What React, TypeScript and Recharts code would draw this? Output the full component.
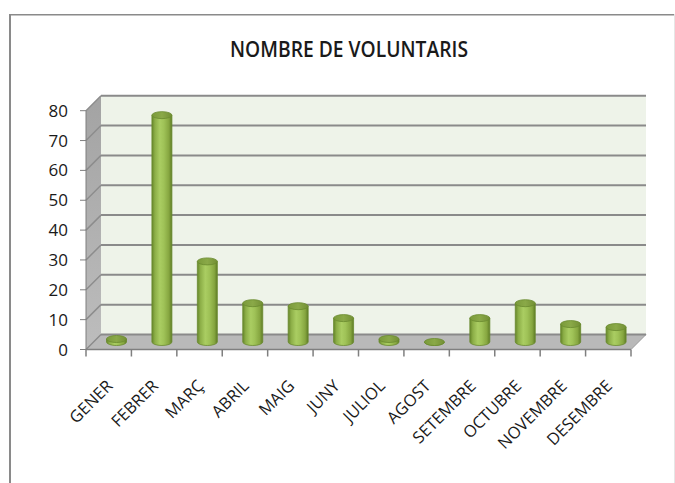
import React from 'react';
import { BarChart, Bar, XAxis, YAxis, CartesianGrid, ReferenceArea } from 'recharts';

const categories = ['GENER', 'FEBRER', 'MARÇ', 'ABRIL', 'MAIG', 'JUNY', 'JULIOL', 'AGOST', 'SETEMBRE', 'OCTUBRE', 'NOVEMBRE', 'DESEMBRE'];
const values = [1, 76, 27, 13, 12, 8, 1, 0, 8, 13, 6, 5];
const yTicks = [0, 10, 20, 30, 40, 50, 60, 70, 80];
const title = 'NOMBRE DE VOLUNTARIS';

const data = categories.map((name, i) => ({ name, value: values[i] }));

const DEPTH = 15;
const FONT = "'Open Sans', 'DejaVu Sans', sans-serif";

function Walls(props: any) {
  const { x, y, width, height } = props;
  if (x == null || y == null) return null;
  const D = DEPTH;
  const b = y + height;
  return (
    <g>
      <polygon points={`${x},${b} ${x},${y} ${x + D},${y - D} ${x + D},${b - D}`} fill="url(#sideWall)" />
      <rect x={x + D} y={y - D} width={width} height={height} fill="#eef3e9" />
      <polygon
        points={`${x},${b} ${x + width},${b} ${x + width + D},${b - D} ${x + D},${b - D}`}
        fill="#b9b9b9"
        stroke="#9a9a9a"
        strokeWidth={1}
      />
    </g>
  );
}

const gridLine = (p: any) => {
  const { x1, y1, x2 } = p;
  const D = DEPTH;
  return (
    <g key={p.key}>
      <line x1={x1} y1={y1} x2={x1 + D} y2={y1 - D} stroke="#8c8c8c" strokeWidth={1.5} />
      <line x1={x1 + D} y1={y1 - D} x2={x2 + D} y2={y1 - D} stroke="#8a8a8a" strokeWidth={2} />
    </g>
  );
};

function Cylinder(props: any) {
  const { x, y, width, height } = props;
  if (x == null || y == null) return null;
  const D = DEPTH / 2;
  const rx = width / 2;
  const ry = 3.5;
  const cx = x + rx + D;
  const top = y - D;
  const bottom = y + (height || 0) - D;
  const body = `M ${cx - rx} ${top} L ${cx - rx} ${bottom} A ${rx} ${ry} 0 0 0 ${cx + rx} ${bottom} L ${cx + rx} ${top} Z`;
  return (
    <g>
      <path d={body} fill="url(#cylBody)" stroke="#6a8a2e" strokeWidth={0.8} />
      <ellipse cx={cx} cy={top} rx={rx} ry={ry} fill="url(#cylTop)" stroke="#6a8a2e" strokeWidth={0.8} />
    </g>
  );
}

function MonthTick(props: any) {
  const { x, y, payload, index, visibleTicksCount } = props;
  const px = Number(x);
  const py = Number(y);
  const half = Number(payload && payload.offset) || 0;
  const ax = px + 5;
  const ay = py + 37.5;
  const isLast = index === (visibleTicksCount || categories.length) - 1;
  return (
    <g>
      <line x1={px - half} y1={py} x2={px - half} y2={py + 7} stroke="#7f7f7f" strokeWidth={1.5} />
      {isLast ? <line x1={px + half} y1={py} x2={px + half} y2={py + 7} stroke="#7f7f7f" strokeWidth={1.5} /> : null}
      <g transform={`translate(${ax},${ay}) rotate(-45)`}>
        <text x={0} y={0} textAnchor="end" fontFamily={FONT} fontSize={16.5} fill="#1a1a1a">
          {payload.value}
        </text>
      </g>
    </g>
  );
}

export default function App() {
  return (
    <div style={{ position: 'absolute', left: 0, top: 0, width: 675, height: 483, background: '#ffffff' }}>
      <svg width={675} height={483} style={{ position: 'absolute', left: 0, top: 0 }}>
        <defs>
          <linearGradient id="cylBody" x1="0" y1="0" x2="1" y2="0">
            <stop offset="0" stopColor="#66862a" />
            <stop offset="0.15" stopColor="#8cae47" />
            <stop offset="0.4" stopColor="#aacd62" />
            <stop offset="0.6" stopColor="#9fc257" />
            <stop offset="0.85" stopColor="#86a640" />
            <stop offset="1" stopColor="#5e7c25" />
          </linearGradient>
          <linearGradient id="cylTop" x1="0" y1="0" x2="1" y2="0">
            <stop offset="0" stopColor="#7a9a3a" />
            <stop offset="0.5" stopColor="#8aa948" />
            <stop offset="1" stopColor="#738f35" />
          </linearGradient>
          <linearGradient id="sideWall" x1="0" y1="0" x2="0" y2="1">
            <stop offset="0" stopColor="#a3a3a3" />
            <stop offset="1" stopColor="#bdbdbd" />
          </linearGradient>
        </defs>
        <line x1={10} y1={14} x2={10} y2={483} stroke="#8a8a8a" strokeWidth={2} />
        <line x1={9} y1={14.75} x2={674.5} y2={14.75} stroke="#8a8a8a" strokeWidth={1.5} />
        <line x1={674.5} y1={14} x2={674.5} y2={483} stroke="#e6e6e6" strokeWidth={1} />
        <text
          x={349}
          y={57}
          textAnchor="middle"
          fontFamily="'Liberation Sans Narrow', 'Arial Narrow', 'Open Sans', sans-serif"
          fontWeight={600}
          fontSize={22}
          textLength={238}
          lengthAdjust="spacingAndGlyphs"
          fill="#1a1a1a"
        >
          {title}
        </text>
      </svg>
      <div style={{ position: 'absolute', left: 0, top: 0 }}>
        <BarChart
          width={675}
          height={483}
          data={data}
          margin={{ top: 110.7, right: 44, bottom: 0, left: 0 }}
          barSize={20}
        >
          <ReferenceArea
            y1={0}
            y2={80}
            ifOverflow="visible"
            zIndex={-200}
            shape={(p: any) => <Walls {...p} />}
          />
          <CartesianGrid vertical={false} horizontal={gridLine} />
          <XAxis
            dataKey="name"
            height={133.5}
            axisLine={{ stroke: '#7f7f7f', strokeWidth: 1.5 }}
            tickLine={false}
            tickSize={0}
            tickMargin={0}
            interval={0}
            tick={(p: any) => <MonthTick {...p} />}
          />
          <YAxis
            domain={[0, 80]}
            ticks={yTicks}
            width={86}
            tickSize={6}
            tickMargin={12}
            interval={0}
            stroke="#7f7f7f"
            tick={{ fill: '#1a1a1a', fontSize: 17, fontFamily: FONT }}
          />
          <Bar dataKey="value" shape={(p: any) => <Cylinder {...p} />} isAnimationActive={false} />
        </BarChart>
      </div>
    </div>
  );
}
